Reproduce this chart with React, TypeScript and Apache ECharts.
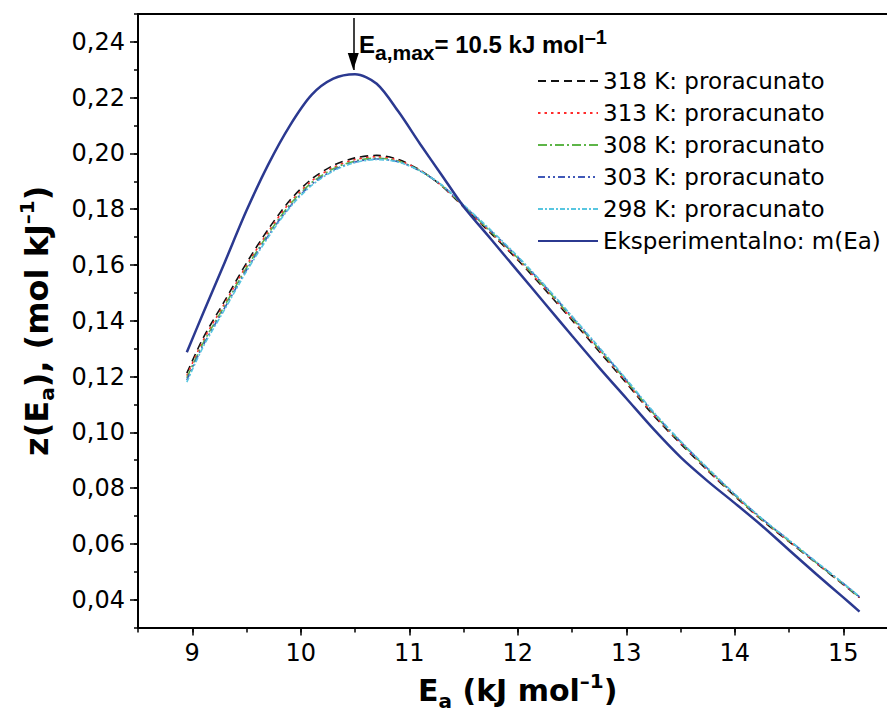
import React, { useEffect, useRef } from "react";
import * as echarts from "echarts";

// Activation energy (kJ/mol)
const ea = [8.95, 9.1, 9.3, 9.5, 9.7, 9.9, 10.1, 10.3, 10.5, 10.7, 10.9, 11.1, 11.3, 11.5, 11.75, 12.0, 12.25, 12.5, 12.75, 13.0, 13.25, 13.5, 13.75, 14.0, 14.25, 14.5, 14.75, 15.0, 15.15];

// calculated distributions
const z318 = [0.1212, 0.1338, 0.1472, 0.1607, 0.1728, 0.1832, 0.1908, 0.1957, 0.1984, 0.1993, 0.1978, 0.1940, 0.1883, 0.1808, 0.1714, 0.1618, 0.1512, 0.1402, 0.1290, 0.1177, 0.1061, 0.0959, 0.0863, 0.0771, 0.0685, 0.0608, 0.0531, 0.0454, 0.0407];
const z313 = [0.1203, 0.1329, 0.1463, 0.1598, 0.1719, 0.1824, 0.1901, 0.1950, 0.1978, 0.1988, 0.1975, 0.1939, 0.1884, 0.1810, 0.1717, 0.1621, 0.1516, 0.1406, 0.1294, 0.1181, 0.1064, 0.0962, 0.0865, 0.0773, 0.0686, 0.0609, 0.0532, 0.0455, 0.0408];
const z308 = [0.1195, 0.1320, 0.1455, 0.1590, 0.1711, 0.1817, 0.1895, 0.1945, 0.1973, 0.1983, 0.1972, 0.1938, 0.1885, 0.1812, 0.1720, 0.1625, 0.1520, 0.1410, 0.1298, 0.1185, 0.1068, 0.0965, 0.0868, 0.0775, 0.0688, 0.0611, 0.0533, 0.0456, 0.0409];
const z303 = [0.1187, 0.1312, 0.1447, 0.1582, 0.1704, 0.1810, 0.1889, 0.1940, 0.1969, 0.1980, 0.1970, 0.1937, 0.1886, 0.1814, 0.1723, 0.1628, 0.1524, 0.1414, 0.1302, 0.1188, 0.1071, 0.0967, 0.0870, 0.0777, 0.0690, 0.0613, 0.0535, 0.0458, 0.0410];
const z298 = [0.1180, 0.1306, 0.1441, 0.1577, 0.1699, 0.1806, 0.1885, 0.1937, 0.1967, 0.1978, 0.1969, 0.1937, 0.1887, 0.1816, 0.1726, 0.1631, 0.1527, 0.1417, 0.1305, 0.1191, 0.1074, 0.0969, 0.0872, 0.0779, 0.0691, 0.0614, 0.0536, 0.0459, 0.0411];

// experimental m(Ea)
const zExp = [0.1287, 0.1427, 0.1610, 0.1795, 0.1960, 0.2100, 0.2210, 0.2268, 0.2284, 0.2250, 0.2150, 0.2034, 0.1922, 0.1810, 0.1694, 0.1578, 0.1462, 0.1346, 0.1232, 0.1122, 0.1012, 0.0911, 0.0825, 0.0746, 0.0665, 0.0578, 0.0492, 0.0408, 0.0357];

const seriesNames = [
  "318 K: proracunato",
  "313 K: proracunato",
  "308 K: proracunato",
  "303 K: proracunato",
  "298 K: proracunato",
  "Eksperimentalno: m(Ea)",
];

const xTickValues = [9, 10, 11, 12, 13, 14, 15];
const yTickValues = [0.04, 0.06, 0.08, 0.1, 0.12, 0.14, 0.16, 0.18, 0.2, 0.22, 0.24];

// arrow marking Ea,max = 10.5
const arrowX = 10.484;
const arrowTopY = 0.2486;
const arrowTipY = 0.2299;
const annotation = "E{sub|a,max}= 10.5 kJ mol{sup|–1}";

const FONT = "DejaVu Sans";
const ANNOT_FONT = "Liberation Sans";

export default function App() {
  const ref = useRef<HTMLDivElement>(null);

  useEffect(() => {
    document.body.style.margin = "0";
    const chart = echarts.init(ref.current as HTMLDivElement, null, { renderer: "svg" });

    const pairs = (ys: number[]) => ea.map((x, i) => [x, ys[i]]);
    const mk = (name: string, ys: number[], color: string, type: any, width: number, z: number) => ({
      name,
      type: "line",
      data: pairs(ys),
      xAxisIndex: 0,
      yAxisIndex: 0,
      smooth: 0.3,
      symbol: "none",
      showSymbol: false,
      lineStyle: { color, type, width },
      itemStyle: { color },
      emphasis: { disabled: true },
      z,
    });

    const black = "#000";
    const axisLine = { show: true, onZero: false, lineStyle: { color: black, width: 2 } };

    const titleRich = () => ({
      sub: { fontFamily: FONT, fontWeight: "bold", fontSize: 20, lineHeight: 19, verticalAlign: "bottom", color: black },
      sup: { fontFamily: FONT, fontWeight: "bold", fontSize: 20, lineHeight: 24, verticalAlign: "top", color: black },
    });

    const expSeries: any = mk(seriesNames[5], zExp, "#2b3990", "solid", 2.5, 3);
    expSeries.markLine = {
      silent: true,
      animation: false,
      symbol: "none",
      label: { show: false },
      lineStyle: { color: black, width: 1.5, type: "solid" },
      emphasis: { disabled: true },
      data: [[{ coord: [arrowX, arrowTopY] }, { coord: [arrowX, arrowTipY] }]],
    };
    expSeries.markPoint = {
      silent: true,
      animation: false,
      symbol: "triangle",
      symbolSize: [11, 17],
      symbolRotate: 180,
      symbolOffset: [0, -8.5],
      itemStyle: { color: black, borderWidth: 0 },
      label: { show: false },
      emphasis: { disabled: true },
      data: [{ coord: [arrowX, arrowTipY] }],
    };

    const option: any = {
      animation: false,
      backgroundColor: "#ffffff",
      textStyle: { fontFamily: FONT },
      grid: { left: 138, top: 14, right: -10.5, bottom: 83.5, containLabel: false, outerBoundsMode: "none" },
      legend: {
        orient: "vertical",
        left: 532,
        top: 64,
        itemWidth: 60,
        itemHeight: 14,
        itemGap: 8,
        selectedMode: false,
        data: seriesNames,
        itemStyle: { opacity: 0, borderWidth: 0 },
        textStyle: { fontFamily: FONT, fontSize: 23, color: black, lineHeight: 24 },
      },
      xAxis: [
        {
          type: "value",
          position: "bottom",
          min: 8.5,
          max: 15.5,
          interval: 0.5,
          axisLine,
          axisTick: { show: true, inside: false, length: 5, lineStyle: { color: black, width: 1.5 } },
          axisLabel: { show: false },
          splitLine: { show: false },
          name: "E{sub|a} (kJ mol{sup|–1})",
          nameLocation: "middle",
          nameGap: 43,
          nameMoveOverlap: false,
          nameTextStyle: { fontFamily: FONT, fontWeight: "bold", fontSize: 30, color: black, lineHeight: 40, rich: titleRich() },
        },
        {
          type: "value",
          position: "bottom",
          min: 8.5,
          max: 15.5,
          axisLine: { show: false, onZero: false },
          axisTick: { show: true, inside: false, length: 8, customValues: xTickValues, lineStyle: { color: black, width: 1.5 } },
          axisLabel: { show: true, customValues: xTickValues, fontFamily: FONT, fontSize: 24, color: black, margin: 13 },
          splitLine: { show: false },
        },
        {
          type: "value",
          position: "top",
          min: 8.5,
          max: 15.5,
          axisLine,
          axisTick: { show: false },
          axisLabel: { show: false },
          splitLine: { show: false },
        },
      ],
      yAxis: [
        {
          type: "value",
          position: "left",
          min: 0.03,
          max: 0.25,
          interval: 0.01,
          axisLine,
          axisTick: { show: true, inside: false, length: 4, lineStyle: { color: black, width: 1.5 } },
          axisLabel: { show: false },
          splitLine: { show: false },
          name: "z(E{sub|a}), (mol kJ{sup|–1})",
          nameLocation: "middle",
          nameRotate: 90,
          nameGap: 81,
          nameMoveOverlap: false,
          nameTextStyle: { fontFamily: FONT, fontWeight: "bold", fontSize: 32, color: black, lineHeight: 40, rich: titleRich() },
        },
        {
          type: "value",
          position: "left",
          min: 0.03,
          max: 0.25,
          axisLine: { show: false, onZero: false },
          axisTick: { show: true, inside: false, length: 8, customValues: yTickValues, lineStyle: { color: black, width: 1.5 } },
          axisLabel: {
            show: true,
            customValues: yTickValues,
            fontFamily: FONT,
            fontSize: 24,
            color: black,
            margin: 13,
            formatter: (v: number) => v.toFixed(2).replace(".", ","),
          },
          splitLine: { show: false },
        },
      ],
      series: [
        mk(seriesNames[0], z318, "#111111", [8, 5], 1.6, 2),
        mk(seriesNames[1], z313, "#ff2b2b", [2.5, 4], 1.6, 2),
        mk(seriesNames[2], z308, "#5db548", [9, 3, 2, 3], 1.6, 2),
        mk(seriesNames[3], z303, "#4159b8", [7, 3, 2, 3, 2, 3], 1.6, 2),
        mk(seriesNames[4], z298, "#58c6e0", [5, 2, 2, 2], 1.6, 2),
        expSeries,
      ],
      graphic: [
        {
          type: "text",
          x: 359,
          y: 44.7,
          silent: true,
          style: {
            text: annotation,
            fontFamily: ANNOT_FONT,
            fontWeight: "bold",
            fontSize: 24,
            lineHeight: 36,
            fill: black,
            verticalAlign: "middle",
            align: "left",
            rich: {
              sub: { fontFamily: ANNOT_FONT, fontWeight: "bold", fontSize: 21, lineHeight: 16, verticalAlign: "bottom", fill: black },
              sup: { fontFamily: ANNOT_FONT, fontWeight: "bold", fontSize: 20, lineHeight: 19, verticalAlign: "top", fill: black },
            },
          },
        },
      ],
    };

    chart.setOption(option);
    return () => {
      chart.dispose();
    };
  }, []);

  return <div ref={ref} style={{ position: "absolute", left: 0, top: 0, width: 887, height: 711 }} />;
}
